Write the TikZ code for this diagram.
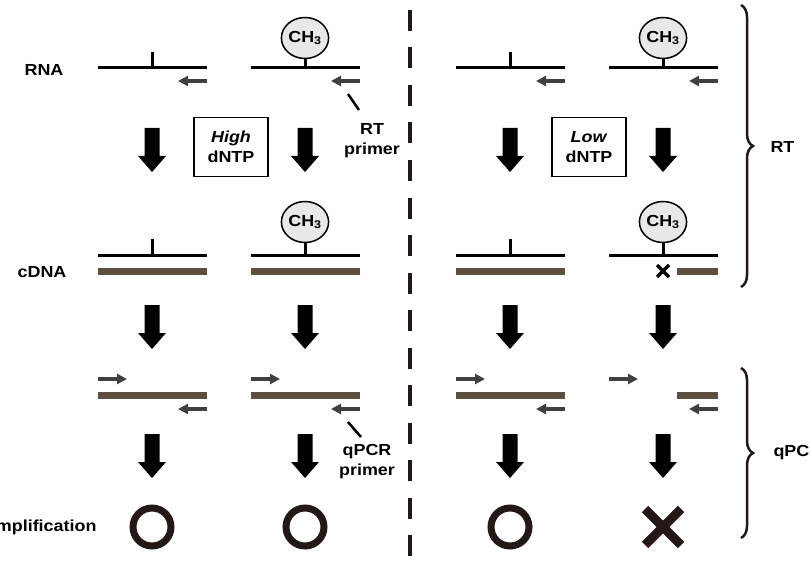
\documentclass[tikz,border=0pt]{standalone}
\usepackage{fontspec}
\setmainfont{Liberation Sans}[FakeStretch=1.12]
\usetikzlibrary{arrows.meta, shapes.geometric, decorations.pathreplacing}
\definecolor{strand}{RGB}{94,78,64}
\definecolor{primer}{RGB}{64,64,64}
\definecolor{ink}{RGB}{35,24,21}
\newcommand{\figfont}{\fontsize{16}{20}\selectfont\bfseries}
\tikzset{
    rna/.style={line width=3pt},
    cdna/.style={line width=7pt, strand},
    primerarr/.style={line width=3.5pt, primer, -{Triangle[length=10pt, width=10pt]}},
    methyl/.style={ellipse, draw, line width=1.5pt, fill=black!9, minimum width=46pt, minimum height=41pt, inner sep=0pt, font=\figfont},
    lbl/.style={font=\figfont, align=center},
    cond/.style={draw, line width=1.5pt, minimum width=74pt, minimum height=59pt, font=\figfont, align=center},
    okmark/.style={circle, draw=ink, line width=7pt, minimum size=38pt, inner sep=0pt},
    bracket/.style={ink, line width=2.5pt, decorate, decoration={brace, amplitude=12pt}}
}

\begin{document}
\begin{tikzpicture}[x=1pt, y=-1pt]
    \useasboundingbox (0,0) rectangle (810,580);
    \clip (0,0) rectangle (810,580);

    \node[lbl] (rnalab) at (44,70) {RNA};
    \node[lbl] (cdnalab) at (42,272) {cDNA};
    \node[lbl, anchor=east] (amplab) at (100,527) {Amplification};

    \foreach \c in {152,510} {
        \draw[rna] (\c-54,68) -- (\c+55,68);
        \draw[rna] (\c,52) -- (\c,68);
        \draw[rna] (\c-54,255) -- (\c+55,255);
        \draw[rna] (\c,239) -- (\c,255);
        \draw[cdna] (\c-54,271) -- (\c+55,271);
    }
    \foreach \c/\n in {305/a,663/b} {
        \node[methyl] (top\n) at (\c,38) {CH\textsubscript{3}};
        \draw[rna] (\c-54,68) -- (\c+55,68);
        \draw[rna] (top\n.south) -- (\c,68);
        \node[methyl] (mid\n) at (\c,222) {CH\textsubscript{3}};
        \draw[rna] (\c-54,255) -- (\c+55,255);
        \draw[rna] (mid\n.south) -- (\c,255);
    }
    \draw[cdna] (251,271) -- (360,271);
    \draw[cdna] (677,271) -- (718,271);
    \draw[line width=3.5pt] (657,265) -- (669,277) (657,277) -- (669,265);

    \foreach \c in {152,305,510,663} {
        \draw[primerarr] (\c+55,81) -- (\c+26,81);
        \draw[primerarr] (\c-54,379) -- (\c-25,379);
        \draw[primerarr] (\c+55,409) -- (\c+26,409);
        \foreach \t in {128,305,434} {
            \fill (\c-7.5,\t) -- (\c+7.5,\t) -- (\c+7.5,\t+28) -- (\c+14,\t+28)
                -- (\c,\t+44) -- (\c-14,\t+28) -- (\c-7.5,\t+28) -- cycle;
        }
    }
    \foreach \c in {152,305,510} {
        \draw[cdna] (\c-54,395) -- (\c+55,395);
    }
    \draw[cdna] (677,395) -- (718,395);

    \node[cond] (high) at (231,147) {\textit{High}\\dNTP};
    \node[cond] (low) at (589,147) {\textit{Low}\\dNTP};

    \node[lbl] (rtprimer) at (372,141) {RT\\primer};
    \coordinate (rtfoot) at (348,94);
    \coordinate (rthead) at (359,110);
    \draw[line width=2.5pt] (rtfoot) -- (rthead);
    \node[lbl] (qprimer) at (367,462) {qPCR\\primer};
    \coordinate (qfoot) at (348,422);
    \coordinate (qhead) at (361,437);
    \draw[line width=2.5pt] (qfoot) -- (qhead);

    \node[okmark] (amp1) at (152,527) {};
    \node[okmark] (amp2) at (305,527) {};
    \node[okmark] (amp3) at (510,527) {};
    \draw[ink, line width=9pt] (645,509) -- (681,545) (645,545) -- (681,509);

    \draw[ink, line width=4pt, dash pattern=on 21pt off 16.5pt] (410,10) -- (410,560);

    \draw[bracket] (741,5) -- (741,287);
    \node[lbl, anchor=west] (rtlab) at (767,147) {RT};
    \draw[bracket] (741,368) -- (741,538);
    \node[lbl, anchor=west] (qpcrlab) at (770,453) {qPCR};
\end{tikzpicture}
\end{document}
